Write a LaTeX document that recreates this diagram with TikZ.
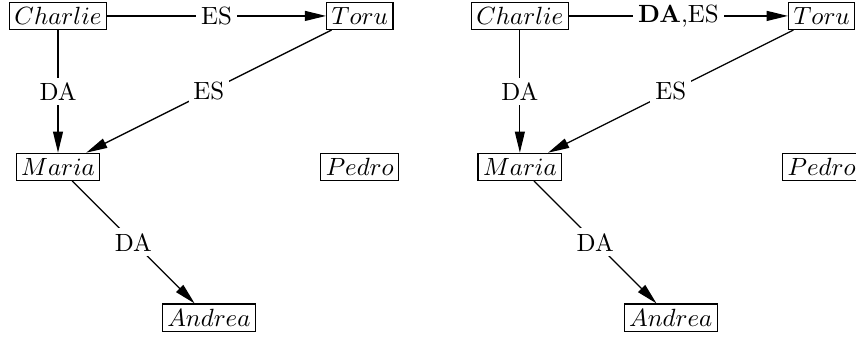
\documentclass[tikz,border=0pt]{standalone}
\usepackage{amsmath}
\usetikzlibrary{arrows.meta}

\begin{document}
\begin{tikzpicture}[x=60.6pt,y=60.6pt,line width=0.5pt,
    agent/.style={draw,inner sep=2pt},
    rel/.style={fill=white,inner sep=2pt},
    >={Triangle[length=8.5pt,width=4pt]}]
   \useasboundingbox (-23.3pt,6.4pt) rectangle (320.5pt,-129.3pt);
   \clip (-23.3pt,6.4pt) rectangle (320.5pt,-129.3pt);

   % before
   \begin{scope}
     \node[agent] (charlieA) at (0,0) {$Charlie$};
     \node[agent] (toruA) at (2,0) {$Toru$};
     \node[agent] (mariaA) at (0,-1) {$Maria$};
     \node[agent] (pedroA) at (2,-1) {$Pedro$};
     \node[agent] (andreaA) at (1,-2) {$Andrea$};
     \draw[->] (charlieA) -- node[rel] {ES} (toruA);
     \draw[->] (charlieA) -- node[rel] {DA} (mariaA);
     \draw[->] (toruA) -- node[rel] {ES} (mariaA);
     \draw[->] (mariaA) -- node[rel] {DA} (andreaA);
   \end{scope}

   % after
   \begin{scope}[xshift=185.5pt]
     \node[agent] (charlieB) at (0,0) {$Charlie$};
     \node[agent] (toruB) at (2,0) {$Toru$};
     \node[agent] (mariaB) at (0,-1) {$Maria$};
     \node[agent] (pedroB) at (2,-1) {$Pedro$};
     \node[agent] (andreaB) at (1,-2) {$Andrea$};
     \draw[->] (charlieB) -- node[rel] {\textbf{DA},ES} (toruB);
     \draw[->] (charlieB) -- node[rel] {DA} (mariaB);
     \draw[->] (toruB) -- node[rel] {ES} (mariaB);
     \draw[->] (mariaB) -- node[rel] {DA} (andreaB);
   \end{scope}
\end{tikzpicture}
\end{document}
